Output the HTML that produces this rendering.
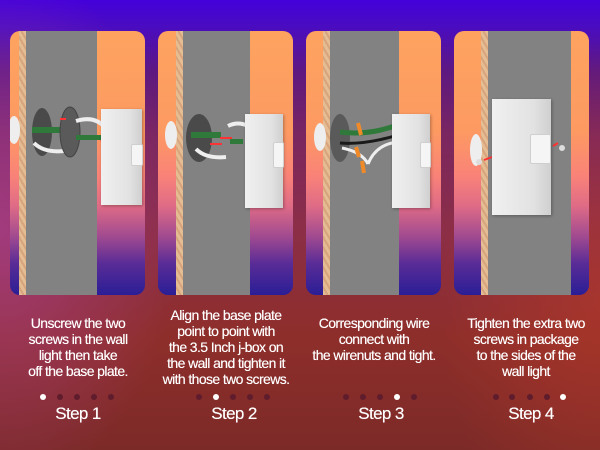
<!DOCTYPE html>
<html><head><meta charset="utf-8"><style>
html,body{margin:0;padding:0}
body{width:600px;height:450px;overflow:hidden;position:relative;font-family:"Liberation Sans",sans-serif;
background:linear-gradient(180deg,#4400da 0%,#4a0cc0 6%,#5e1880 16%,#7a2660 30%,#8c2e48 50%,#8e2e2a 75%,#7c2a28 100%);}
.bg2{position:absolute;inset:0;background:radial-gradient(ellipse 180px 260px at 0 230px,rgba(180,70,170,.55),transparent),radial-gradient(ellipse 160px 260px at 600px 300px,rgba(190,60,40,.5),transparent);}
.p{position:absolute;top:31px;width:135px;height:264px;border-radius:10px;overflow:hidden;
background:linear-gradient(180deg,#fda35f 0%,#fd9a62 38%,#f98278 55%,#e06c86 66%,#a04a90 78%,#5a2c96 88%,#2a1e96 100%);}
.w{position:absolute;top:0;bottom:0;background:repeating-linear-gradient(60deg,#e4bd95 0 3px,#d8a47c 3px 5px);width:7px}
.g{position:absolute;top:0;bottom:0;background:#828282}
.bx{position:absolute;background:linear-gradient(90deg,#f0f0f0,#e2e2e2 70%,#cfcfcf);box-shadow:1px 1px 3px rgba(0,0,0,.3)}
.sw{position:absolute;background:#f5f5f5;border:1px solid #cfcfcf;border-radius:2px}
.t{position:absolute;width:150px;color:#fff;text-align:center;font-size:14px;line-height:16px;letter-spacing:-.6px;text-shadow:0 0 .4px #fff}
.s{position:absolute;width:150px;color:#fff;text-align:center;font-size:17px;top:404px;letter-spacing:-.6px;text-shadow:0 0 .4px #fff}
.d{position:absolute;top:394px;width:6px;height:6px;border-radius:50%;background:#5e1c2c}
.d.a{background:#fff}
svg{position:absolute;left:0;top:0}
</style></head><body><div class="bg2"></div>

<div class="p" style="left:10px">
<div class="w" style="left:9px"></div><div class="g" style="left:16px;width:71px"></div>
<svg width="135" height="264"><ellipse cx="4" cy="99" rx="6" ry="14" fill="#eee"/>
<ellipse cx="32" cy="101" rx="10" ry="24" fill="#4a4a4a"/><rect x="22" y="96" width="32" height="6" fill="#2f7a3a"/>
<path d="M24 112 q10 10 30 8" stroke="#eee" stroke-width="4" fill="none"/>
<ellipse cx="60" cy="101" rx="10" ry="25" fill="#5a5a5a" stroke="#444"/>
<path d="M66 90 q20 -6 30 8" stroke="#eee" stroke-width="4" fill="none"/>
<rect x="66" y="104" width="25" height="5" fill="#2f7a3a"/><path d="M50 88 h6" stroke="#f33" stroke-width="2"/><path d="M91 111 l6 -3" stroke="#f33" stroke-width="3"/></svg>
<div class="bx" style="left:91px;top:78px;width:41px;height:96px"></div><div class="sw" style="left:121px;top:113px;width:10px;height:20px"></div>
</div>

<div class="p" style="left:158px">
<div class="w" style="left:18px"></div><div class="g" style="left:25px;width:67px"></div>
<svg width="135" height="264"><ellipse cx="13" cy="104" rx="6" ry="14" fill="#eee"/>
<ellipse cx="41" cy="107" rx="13" ry="24" fill="#4a4a4a"/><rect x="33" y="101" width="30" height="6" fill="#2f7a3a"/>
<path d="M38 118 q10 10 30 8" stroke="#eee" stroke-width="4" fill="none"/><path d="M70 95 q10 -5 20 0" stroke="#eee" stroke-width="4" fill="none"/>
<rect x="72" y="108" width="13" height="5" fill="#2f7a3a"/><path d="M62 107 h12 M52 113 h12" stroke="#f33" stroke-width="2"/></svg>
<div class="bx" style="left:87px;top:83px;width:38px;height:94px"></div><div class="sw" style="left:115px;top:111px;width:9px;height:24px"></div>
</div>

<div class="p" style="left:306px">
<div class="w" style="left:17px"></div><div class="g" style="left:24px;width:69px"></div>
<svg width="135" height="264"><ellipse cx="14" cy="106" rx="6" ry="14" fill="#eee"/>
<ellipse cx="34" cy="107" rx="10" ry="24" fill="#5a5a5a"/><path d="M34 101 q30 4 60 -8" stroke="#2f7a3a" stroke-width="5" fill="none"/>
<path d="M34 112 q25 2 58 -8" stroke="#1a1a1a" stroke-width="3" fill="none"/>
<path d="M36 117 q20 4 26 16 M62 133 q8 -20 30 -22" stroke="#eee" stroke-width="3" fill="none"/>
<path d="M52 92 l3 12 M50 116 l3 10 M56 130 l2 12" stroke="#f08a28" stroke-width="4"/></svg>
<div class="bx" style="left:86px;top:83px;width:38px;height:94px"></div><div class="sw" style="left:114px;top:111px;width:9px;height:24px"></div>
</div>

<div class="p" style="left:454px">
<div class="w" style="left:27px"></div><div class="g" style="left:34px;width:83px"></div>
<svg width="135" height="264"><ellipse cx="22" cy="119" rx="6" ry="16" fill="#eee"/>
<circle cx="25" cy="131" r="3" fill="#ddd"/><path d="M30 129 l8 -3" stroke="#f33" stroke-width="2"/>
<circle cx="108" cy="117" r="3" fill="#ddd"/><path d="M104 112 l-5 3" stroke="#f33" stroke-width="2"/></svg>
<div class="bx" style="left:38px;top:68px;width:59px;height:116px"></div><div class="sw" style="left:76px;top:103px;width:19px;height:28px"></div>
</div>

<div class="t" style="left:3px;top:315px">Unscrew the two<br>screws in the wall<br>light then take<br>off the base plate.</div>
<div class="t" style="left:151px;top:307px">Align the base plate<br>point to point with<br>the 3.5 Inch j-box on<br>the wall and tighten it<br>with those two screws.</div>
<div class="t" style="left:299px;top:315px">Corresponding wire<br>connect with<br>the wirenuts and tight.</div>
<div class="t" style="left:451px;top:315px">Tighten the extra two<br>screws in package<br>to the sides of the<br>wall light</div>

<div class="d a" style="left:40px"></div><div class="d" style="left:57px"></div><div class="d" style="left:74px"></div><div class="d" style="left:91px"></div><div class="d" style="left:108px"></div>
<div class="d" style="left:196px"></div><div class="d a" style="left:213px"></div><div class="d" style="left:230px"></div><div class="d" style="left:247px"></div><div class="d" style="left:264px"></div>
<div class="d" style="left:343px"></div><div class="d" style="left:360px"></div><div class="d" style="left:377px"></div><div class="d a" style="left:394px"></div><div class="d" style="left:411px"></div>
<div class="d" style="left:493px"></div><div class="d" style="left:509px"></div><div class="d" style="left:527px"></div><div class="d" style="left:544px"></div><div class="d a" style="left:560px"></div>

<div class="s" style="left:3px">Step 1</div>
<div class="s" style="left:159px">Step 2</div>
<div class="s" style="left:306px">Step 3</div>
<div class="s" style="left:456px">Step 4</div>
</body></html>
